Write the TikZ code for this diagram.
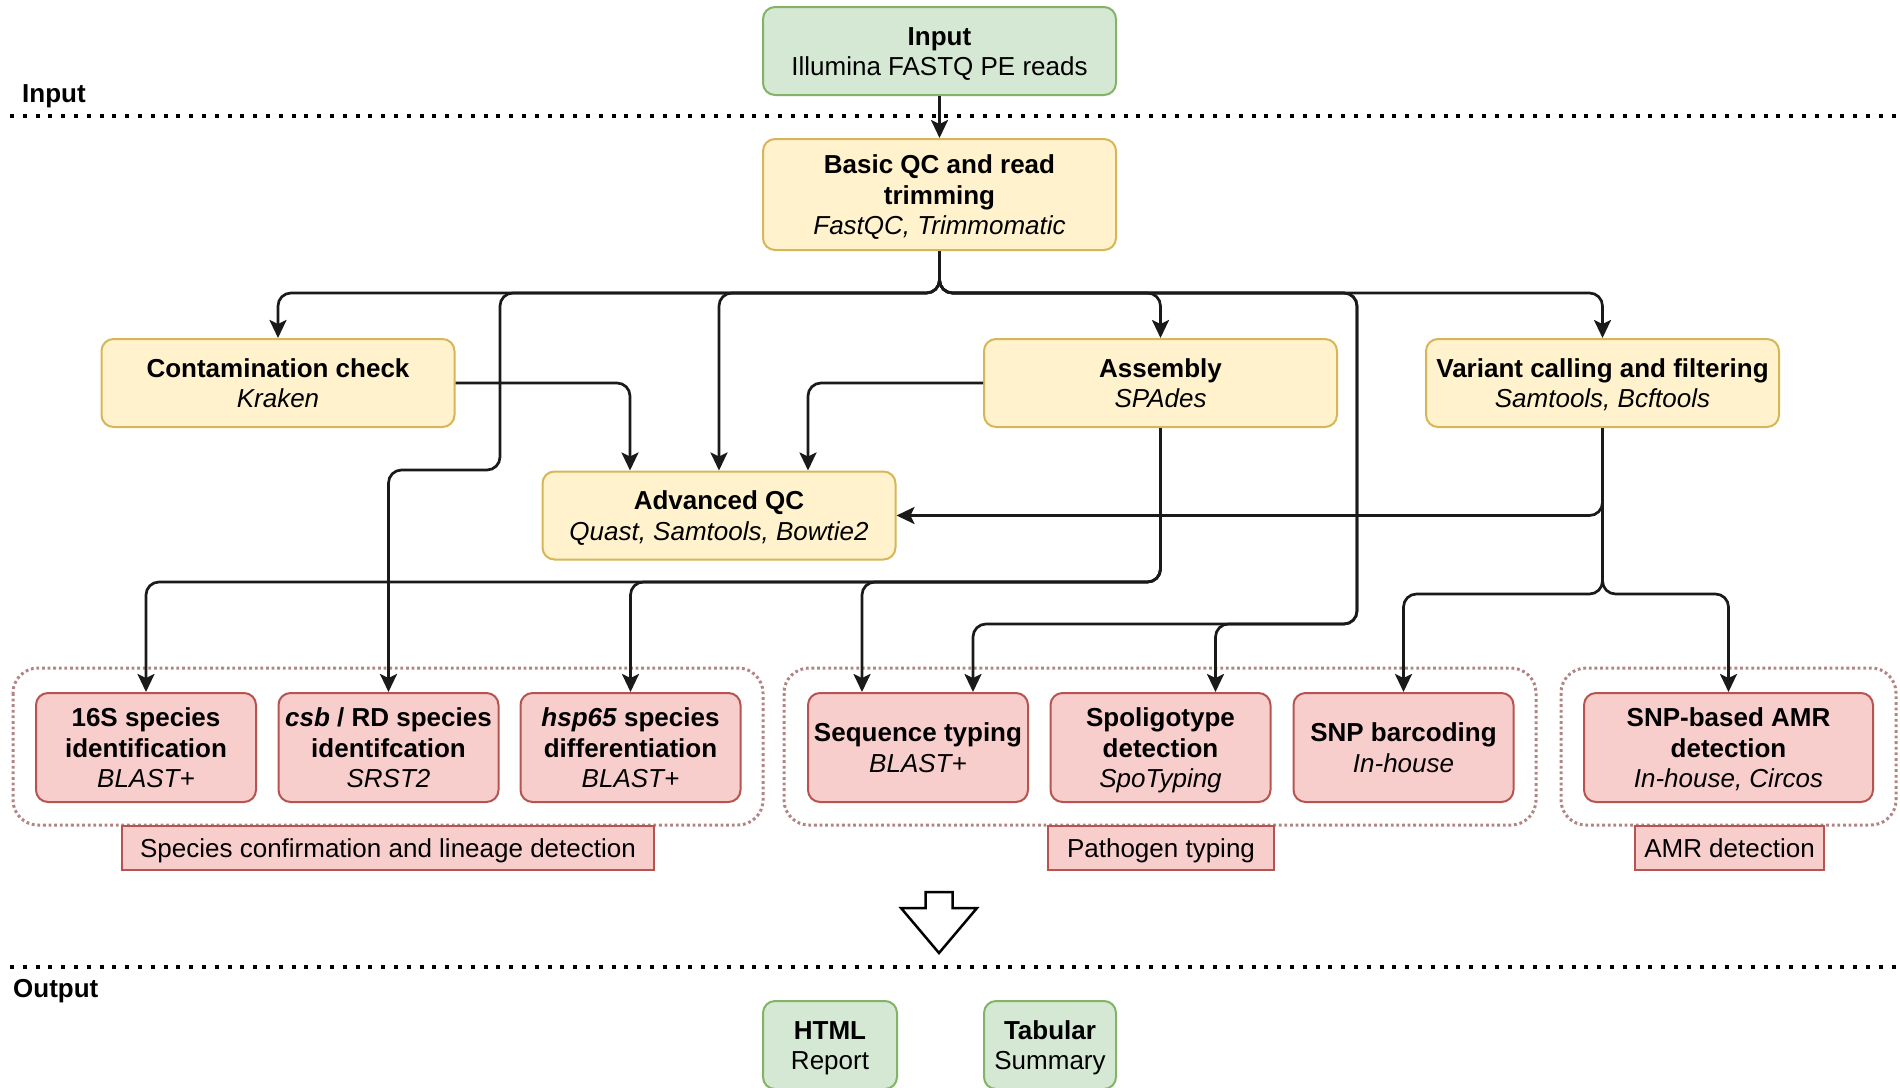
\documentclass[tikz,border=0pt]{standalone}
\usepackage{fontspec}
\setmainfont{Liberation Sans}
\usetikzlibrary{arrows.meta,calc}

\definecolor{ioFill}{HTML}{D5E8D4}
\definecolor{ioLine}{HTML}{82B366}
\definecolor{stFill}{HTML}{FFF2CC}
\definecolor{stLine}{HTML}{D6B656}
\definecolor{anFill}{HTML}{F8CECC}
\definecolor{anLine}{HTML}{B85450}
\definecolor{grpLine}{HTML}{B38484}
\definecolor{wire}{HTML}{1A1A1A}

\tikzset{
  twolines/.style={text height=49.5pt, text depth=0pt},
  threelines/.style={text height=80pt, text depth=0pt},
  base/.style={rounded corners=12pt, line width=2pt, align=center, inner sep=0pt,
    font=\fontsize{26}{30.5}\selectfont},
  iobox/.style={base, twolines, fill=ioFill, draw=ioLine},
  stagebox/.style={base, twolines, fill=stFill, draw=stLine, minimum width=353pt, minimum height=88pt},
  toolbox/.style={base, threelines, fill=anFill, draw=anLine, minimum width=220pt, minimum height=109pt},
  tagbox/.style={fill=anFill, draw=anLine, line width=2pt, inner sep=0pt, minimum height=44pt,
    text height=19pt, text depth=0pt, font=\fontsize{26}{30.5}\selectfont},
  group/.style={draw=grpLine, line width=3pt, dash pattern=on 2.8pt off 2.8pt, rounded corners=25pt},
  conn/.style={draw=wire, line width=2.7pt, rounded corners=13pt,
    -{Stealth[length=18pt,width=17pt,inset=4pt]}},
  sep/.style={line width=4pt, dash pattern=on 4pt off 8.8pt},
  lane/.style={font=\bfseries\fontsize{26}{30}\selectfont, anchor=west, inner sep=0pt},
}

\begin{document}
\begin{tikzpicture}[x=1pt, y=-1pt]
\useasboundingbox (0,0) rectangle (1900,1087);
\begin{scope}
\clip (0,0) rectangle (1900,1087);

% stage separators
\draw[sep] (10,116) -- (1900,116);
\draw[sep] (10,967) -- (1900,967);
\node[lane] (laneIn) at (22,96) {Input};
\node[lane] (laneOut) at (13,991) {Output};

% result groups
\draw[group] (13,668) rectangle (763,825);
\draw[group] (784,668) rectangle (1536,825);
\draw[group] (1561,668) rectangle (1896,825);

% input and preprocessing
\node[iobox, minimum width=353pt, minimum height=88pt] (input) at (939.5,51)
  {\textbf{Input}\\Illumina FASTQ PE reads};
\node[stagebox, threelines, minimum height=111pt] (basic) at (939.5,194.5)
  {\textbf{Basic QC and read}\\\textbf{trimming}\\\textit{FastQC, Trimmomatic}};
\node[stagebox] (contam) at (278,383) {\textbf{Contamination check}\\\textit{Kraken}};
\node[stagebox] (asm) at (1160.5,383) {\textbf{Assembly}\\\textit{SPAdes}};
\node[stagebox] (var) at (1602.5,383) {\textbf{Variant calling and filtering}\\\textit{Samtools, Bcftools}};
\node[stagebox] (adv) at (719,515.5) {\textbf{Advanced QC}\\\textit{Quast, Samtools, Bowtie2}};

% analysis modules
\node[toolbox] (s16) at (146,747.5) {\textbf{16S species}\\\textbf{identification}\\\textit{BLAST+}};
\node[toolbox] (csb) at (388.5,747.5) {\textbf{\textit{csb} / RD species}\\\textbf{identifcation}\\\textit{SRST2}};
\node[toolbox] (hsp) at (630.5,747.5) {\textbf{\textit{hsp65} species}\\\textbf{differentiation}\\\textit{BLAST+}};
\node[toolbox, twolines] (seq) at (918,747.5) {\textbf{Sequence typing}\\\textit{BLAST+}};
\node[toolbox] (spo) at (1160.5,747.5) {\textbf{Spoligotype}\\\textbf{detection}\\\textit{SpoTyping}};
\node[toolbox, twolines] (snp) at (1403.5,747.5) {\textbf{SNP barcoding}\\\textit{In-house}};
\node[toolbox, minimum width=289pt] (amr) at (1728.5,747.5) {\textbf{SNP-based AMR}\\\textbf{detection}\\\textit{In-house, Circos}};

% group captions
\node[tagbox, minimum width=532pt] (tagSpecies) at (388,848) {Species confirmation and lineage detection};
\node[tagbox, minimum width=226pt] (tagTyping) at (1161,848) {Pathogen typing};
\node[tagbox, minimum width=189pt] (tagAmr) at (1729.5,848) {AMR detection};

% outputs
\node[iobox, minimum width=134pt, minimum height=88pt] (html) at (830,1045) {\textbf{HTML}\\Report};
\node[iobox, minimum width=132pt, minimum height=88pt] (tab) at (1050,1045) {\textbf{Tabular}\\Summary};

% bends of the connector bundles
\coordinate (busTop) at (939,293);
\coordinate (busAsm) at (1161,582);
\coordinate (busVar) at (1603,594);
\coordinate (csbBend) at (500,470);
\coordinate (spoBend) at (1357,624);

% connectors
\draw[conn] (input.south) -- (basic.north);
\draw[conn] (basic.south) -- (basic.south |- busTop) -| (contam.north);
\draw[conn] (basic.south) -- (basic.south |- busTop) -| (adv.north);
\draw[conn] (basic.south) -- (basic.south |- busTop) -| (asm.north);
\draw[conn] (basic.south) -- (basic.south |- busTop) -| (var.north);
\draw[conn] (basic.south) -- (basic.south |- busTop) -- (csbBend |- busTop) -- (csbBend) -| (csb.north);
\draw[conn] (basic.south) -- (basic.south |- busTop) -- (spoBend |- busTop) -- (spoBend) -| ([xshift=55pt]spo.north);
\draw[conn] (basic.south) -- (basic.south |- busTop) -- (spoBend |- busTop) -- (spoBend) -| ([xshift=55pt]seq.north);

\draw[conn] (contam.east) -| ([xshift=-89pt]adv.north);
\draw[conn] (asm.west) -| ([xshift=89pt]adv.north);
\draw[conn] (var.south) |- (adv.east);

\draw[conn] (var.south) -- (var.south |- busVar) -| (snp.north);
\draw[conn] (var.south) -- (var.south |- busVar) -| (amr.north);

\draw[conn] (asm.south) -- (asm.south |- busAsm) -| (s16.north);
\draw[conn] (asm.south) -- (asm.south |- busAsm) -| (hsp.north);
\draw[conn] (asm.south) -- (asm.south |- busAsm) -| ([xshift=-56pt]seq.north);

% hollow arrow towards the outputs
\draw[line width=2.5pt, fill=white, line join=miter]
  (925.5,892) -- (952.5,892) -- (952.5,908) -- (977,908) -- (939,953)
  -- (901,908) -- (925.5,908) -- cycle;
\end{scope}
\end{tikzpicture}
\end{document}
